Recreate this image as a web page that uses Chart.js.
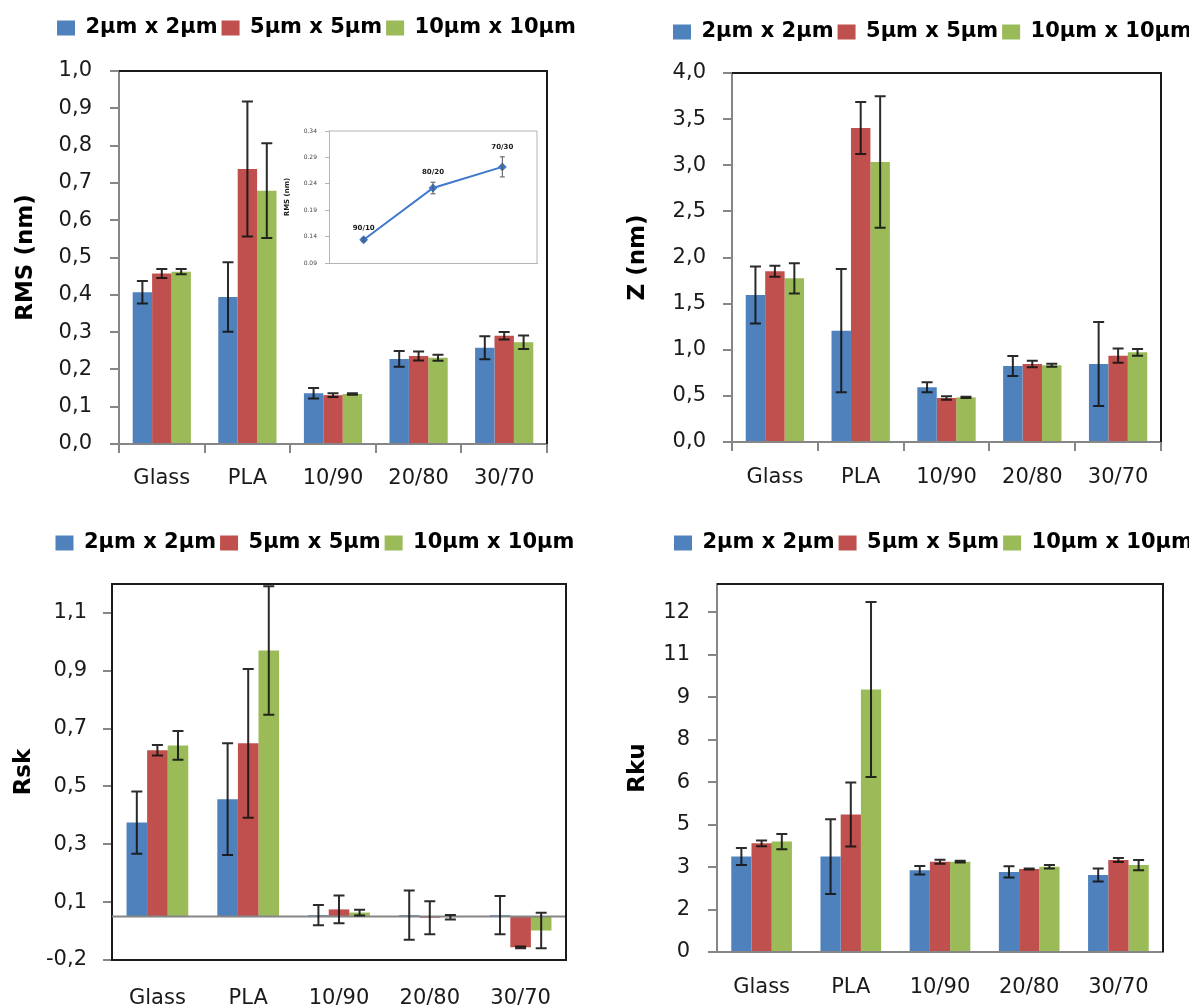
<!DOCTYPE html>
<html>
<head>
<meta charset="utf-8">
<script src="https://cdn.jsdelivr.net/npm/chart.js@4.4.0/dist/chart.umd.min.js"></script>
<style>
  html, body { margin: 0; padding: 0; background: #fff; }
  body { width: 1189px; height: 1005px; position: relative; overflow: hidden; }
  canvas { position: absolute; }
</style>
</head>
<body>
<canvas id="rmsChart" width="595" height="500" style="left:0;top:0"></canvas>
<canvas id="zChart" width="589" height="500" style="left:600px;top:0"></canvas>
<canvas id="rskChart" width="595" height="505" style="left:0;top:500px"></canvas>
<canvas id="rkuChart" width="589" height="505" style="left:600px;top:500px"></canvas>
<canvas id="insetChart" width="280" height="170" style="left:270px;top:115px"></canvas>
<script>
// Categories and series
const categories = ['Glass', 'PLA', '10/90', '20/80', '30/70'];
const seriesNames = ['2µm x 2µm', '5µm x 5µm', '10µm x 10µm'];
const seriesColors = ['#4F81BD', '#C0504D', '#9BBB59'];

// RMS (nm)
const rms2 = [0.407, 0.394, 0.136, 0.228, 0.258];
const rms5 = [0.457, 0.737, 0.131, 0.236, 0.290];
const rms10 = [0.462, 0.679, 0.134, 0.231, 0.273];
const rmsErr2 = [0.030, 0.093, 0.014, 0.021, 0.031];
const rmsErr5 = [0.012, 0.181, 0.005, 0.012, 0.010];
const rmsErr10 = [0.007, 0.127, 0.002, 0.008, 0.018];
const rmsTicks = [0, 0.1, 0.2, 0.3, 0.4, 0.5, 0.6, 0.7, 0.8, 0.9, 1.0];
const rmsTickLabels = ['0,0', '0,1', '0,2', '0,3', '0,4', '0,5', '0,6', '0,7', '0,8', '0,9', '1,0'];

// Z (nm)
const z2 = [1.594, 1.207, 0.593, 0.824, 0.846];
const z5 = [1.850, 3.404, 0.477, 0.846, 0.936];
const z10 = [1.774, 3.035, 0.484, 0.831, 0.972];
const zErr2 = [0.309, 0.667, 0.054, 0.108, 0.455];
const zErr5 = [0.060, 0.281, 0.020, 0.036, 0.077];
const zErr10 = [0.165, 0.712, 0.006, 0.016, 0.036];
const zTicks = [0, 0.5, 1.0, 1.5, 2.0, 2.5, 3.0, 3.5, 4.0];
const zTickLabels = ['0,0', '0,5', '1,0', '1,5', '2,0', '2,5', '3,0', '3,5', '4,0'];

// Rsk
const rsk2 = [0.325, 0.406, 0.005, 0.005, 0.005];
const rsk5 = [0.575, 0.599, 0.025, -0.004, -0.106];
const rsk10 = [0.592, 0.920, 0.014, -0.002, -0.048];
const rskErr2 = [0.108, 0.193, 0.035, 0.085, 0.066];
const rskErr5 = [0.018, 0.257, 0.048, 0.057, 0.003];
const rskErr10 = [0.050, 0.222, 0.010, 0.008, 0.061];
const rskTicks = [-0.15, 0.05, 0.25, 0.45, 0.65, 0.85, 1.05];
const rskTickLabels = ['-0,2', '0,1', '0,3', '0,5', '0,7', '0,9', '1,1'];

// Rku
const rku2 = [3.37, 3.37, 2.89, 2.83, 2.72];
const rku5 = [3.84, 4.86, 3.19, 2.93, 3.25];
const rku10 = [3.90, 9.27, 3.19, 3.01, 3.07];
const rkuErr2 = [0.30, 1.32, 0.15, 0.20, 0.23];
const rkuErr5 = [0.10, 1.13, 0.07, 0.02, 0.07];
const rkuErr10 = [0.27, 3.09, 0.03, 0.06, 0.18];
const rkuTicks = [0, 1.5, 3, 4.5, 6, 7.5, 9, 10.5, 12];
const rkuTickLabels = ['0', '2', '3', '5', '6', '8', '9', '11', '12'];

// Inset (RMS of blends)
const insetLabels = ['90/10', '80/20', '70/30'];
const insetRms = [0.134, 0.232, 0.272];
const insetErr = [0.003, 0.011, 0.019];
const insetTicks = [0.09, 0.14, 0.19, 0.24, 0.29, 0.34];
const insetTickLabels = ['0.09', '0.14', '0.19', '0.24', '0.29', '0.34'];

Chart.defaults.font.family = "'DejaVu Sans', sans-serif";
Chart.defaults.color = '#1a1a1a';

const AXIS_GRAY = '#868686';
const FRAME_DARK = '#1a1a1a';

// move the legend block after layout
function legendShift(dx, dy) {
    return {
        id: 'legendShift',
        afterLayout(chart) {
            const l = chart.legend;
            if (!l) return;
            l.left += dx; l.right += dx;
            l.top += dy; l.bottom += dy;
        }
    };
}

// frame, zero line and error bars
function decor(errors, opts) {
    return {
        id: 'decor',
        afterDatasetsDraw(chart) {
            const ctx = chart.ctx;
            const area = chart.chartArea;
            const y = chart.scales.y;
            ctx.save();
            if (opts.zeroLine) {
                const y0 = y.getPixelForValue(0);
                ctx.strokeStyle = AXIS_GRAY;
                ctx.lineWidth = 2;
                ctx.beginPath();
                ctx.moveTo(area.left, y0);
                ctx.lineTo(area.right, y0);
                ctx.stroke();
            }
            ctx.strokeStyle = opts.errColor;
            ctx.lineWidth = opts.errWidth;
            chart.data.datasets.forEach((ds, i) => {
                const meta = chart.getDatasetMeta(i);
                meta.data.forEach((el, j) => {
                    const v = ds.data[j], e = errors[i][j];
                    const yTop = y.getPixelForValue(v + e);
                    const yBot = y.getPixelForValue(v - e);
                    const c = opts.cap;
                    ctx.beginPath();
                    ctx.moveTo(el.x, yTop); ctx.lineTo(el.x, yBot);
                    ctx.moveTo(el.x - c, yTop); ctx.lineTo(el.x + c, yTop);
                    ctx.moveTo(el.x - c, yBot); ctx.lineTo(el.x + c, yBot);
                    ctx.stroke();
                });
            });
            ctx.strokeStyle = opts.frameColor;
            ctx.lineWidth = opts.frameWidth;
            ctx.beginPath();
            ctx.moveTo(area.left, area.top);
            ctx.lineTo(area.right, area.top);
            ctx.lineTo(area.right, area.bottom);
            ctx.stroke();
            if (opts.labels) {
                ctx.fillStyle = '#1a1a1a';
                ctx.font = "bold 7px 'DejaVu Sans'";
                ctx.textAlign = 'center';
                ctx.textBaseline = 'middle';
                const meta = chart.getDatasetMeta(0);
                meta.data.forEach((el, j) => {
                    const v = chart.data.datasets[0].data[j];
                    const yTop = y.getPixelForValue(v + errors[0][j]);
                    ctx.fillText(opts.labels[j], el.x, yTop - 10);
                });
            }
            ctx.restore();
        }
    };
}

function buildBarChart(id, cfg) {
    const ctx = document.getElementById(id).getContext('2d');
    return new Chart(ctx, {
        type: 'bar',
        data: {
            labels: categories,
            datasets: cfg.series.map((data, i) => ({
                label: seriesNames[i],
                data: data,
                backgroundColor: seriesColors[i],
                borderWidth: 0,
                categoryPercentage: 0.68,
                barPercentage: 1.0,
            })),
        },
        options: {
            responsive: false,
            animation: false,
            layout: { padding: cfg.padding },
            plugins: {
                legend: {
                    align: 'start',
                    labels: {
                        boxWidth: 18,
                        boxHeight: 15,
                        padding: 4,
                        color: '#000',
                        font: { size: 21, weight: 'bold' },
                    },
                },
                tooltip: { enabled: false },
            },
            scales: {
                x: {
                    grid: { drawOnChartArea: false, drawTicks: cfg.xTicks, tickLength: 9, color: AXIS_GRAY, lineWidth: 2 },
                    border: { color: cfg.axisColor, width: 2 },
                    ticks: { padding: cfg.xPad, font: { size: 21 }, color: '#1a1a1a' },
                    afterFit: (s) => { s.height = cfg.xHeight; },
                },
                y: {
                    min: cfg.min,
                    max: cfg.max,
                    afterBuildTicks: (s) => { s.ticks = cfg.ticks.map(v => ({ value: v })); },
                    grid: { drawOnChartArea: false, tickLength: 9, color: AXIS_GRAY, lineWidth: 2 },
                    border: { color: cfg.axisColor, width: 2 },
                    ticks: {
                        padding: cfg.yPad,
                        font: { size: 21 },
                        color: '#1a1a1a',
                        callback: (v, i) => cfg.tickLabels[i],
                    },
                    title: {
                        display: true,
                        text: cfg.title,
                        color: '#000',
                        font: { size: 23, weight: 'bold' },
                        padding: { top: cfg.titlePad, bottom: 0 },
                    },
                    afterFit: (s) => { s.width = cfg.yWidth; },
                },
            },
        },
        plugins: [
            legendShift(cfg.legendDx, cfg.legendDy),
            decor(cfg.errors, {
                zeroLine: cfg.zeroLine, errColor: 'rgba(20,20,20,0.9)', errWidth: 2, cap: 5.5,
                frameColor: FRAME_DARK, frameWidth: 2,
            }),
        ],
    });
}

buildBarChart('rmsChart', {
    series: [rms2, rms5, rms10], errors: [rmsErr2, rmsErr5, rmsErr10],
    ticks: rmsTicks, tickLabels: rmsTickLabels, min: 0, max: 1.0,
    title: 'RMS (nm)', titlePad: 12,
    padding: { top: 36, right: 48, bottom: 0, left: 0 },
    yWidth: 119, xHeight: 56, yPad: 18, xPad: 13, xTicks: true,
    legendDx: 53, legendDy: -22.5, axisColor: AXIS_GRAY, zeroLine: false,
});

buildBarChart('zChart', {
    series: [z2, z5, z10], errors: [zErr2, zErr5, zErr10],
    ticks: zTicks, tickLabels: zTickLabels, min: 0, max: 4.0,
    title: 'Z (nm)', titlePad: 24,
    padding: { top: 38, right: 28, bottom: 0, left: 0 },
    yWidth: 132, xHeight: 58, yPad: 17, xPad: 14, xTicks: true,
    legendDx: 69, legendDy: -20.5, axisColor: AXIS_GRAY, zeroLine: false,
});

buildBarChart('rskChart', {
    series: [rsk2, rsk5, rsk10], errors: [rskErr2, rskErr5, rskErr10],
    ticks: rskTicks, tickLabels: rskTickLabels, min: -0.15, max: 1.15,
    title: 'Rsk', titlePad: 10,
    padding: { top: 49, right: 29, bottom: 0, left: 0 },
    yWidth: 112, xHeight: 45, yPad: 16, xPad: 26, xTicks: false,
    legendDx: 51.5, legendDy: -20.5, axisColor: FRAME_DARK, zeroLine: true,
});

buildBarChart('rkuChart', {
    series: [rku2, rku5, rku10], errors: [rkuErr2, rkuErr5, rkuErr10],
    ticks: rkuTicks, tickLabels: rkuTickLabels, min: 0, max: 13,
    title: 'Rku', titlePad: 24,
    padding: { top: 49, right: 26, bottom: 0, left: 0 },
    yWidth: 117, xHeight: 53, yPad: 18, xPad: 23, xTicks: false,
    legendDx: 70, legendDy: -20.5, axisColor: AXIS_GRAY, zeroLine: false,
});

// Inset line chart
new Chart(document.getElementById('insetChart').getContext('2d'), {
    type: 'line',
    data: {
        labels: insetLabels,
        datasets: [{
            data: insetRms,
            borderColor: '#3F78CC',
            backgroundColor: '#3F78CC',
            borderWidth: 2,
            pointStyle: 'rectRot',
            pointRadius: 3,
            tension: 0,
        }],
    },
    options: {
        responsive: false,
        animation: false,
        layout: { padding: { top: 16, right: 13, bottom: 0, left: 0 } },
        plugins: { legend: { display: false }, tooltip: { enabled: false } },
        scales: {
            x: {
                offset: true,
                grid: { display: false },
                ticks: { display: false },
                border: { color: '#b5b5b5', width: 1 },
                afterFit: (s) => { s.height = 22; },
            },
            y: {
                min: 0.09,
                max: 0.34,
                afterBuildTicks: (s) => { s.ticks = insetTicks.map(v => ({ value: v })); },
                grid: { drawOnChartArea: false, tickLength: 4, color: '#b5b5b5' },
                border: { color: '#b5b5b5', width: 1 },
                ticks: { padding: 8, font: { size: 6 }, color: '#444', callback: (v, i) => insetTickLabels[i] },
                title: { display: true, text: 'RMS (nm)', font: { size: 7, weight: 'bold' }, padding: { top: 13, bottom: 0 } },
                afterFit: (s) => { s.width = 59; },
            },
        },
    },
    plugins: [
        decor([insetErr], {
            zeroLine: false, errColor: '#555', errWidth: 1, cap: 2.5,
            frameColor: '#b5b5b5', frameWidth: 1, labels: insetLabels,
        }),
    ],
});
</script>
</body>
</html>
